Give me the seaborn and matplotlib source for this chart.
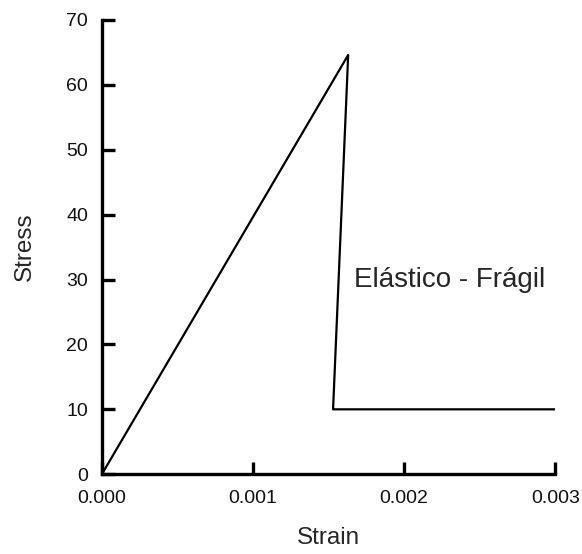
import matplotlib
matplotlib.use("Agg")
import matplotlib.pyplot as plt
import seaborn as sns
import pandas as pd

strain = [0.0, 0.00163, 0.00153, 0.003]
stress = [0.0, 64.6, 10.0, 10.0]
xticks = [0.000, 0.001, 0.002, 0.003]
xticklabels = ["0.000", "0.001", "0.002", "0.003"]
yticks = [0, 10, 20, 30, 40, 50, 60, 70]

sns.set_style("white")
plt.rcParams['font.family'] = ['Liberation Sans', 'DejaVu Sans']

df = pd.DataFrame({"Strain": strain, "Stress": stress})

fig = plt.figure(figsize=(5.82, 5.54), dpi=100)
ax = fig.add_axes([0.175, 0.144, 0.779, 0.82])
sns.lineplot(data=df, x="Strain", y="Stress", sort=False, estimator=None,
             color="black", linewidth=1.6, ax=ax)

ax.set_xlim(0, 0.003)
ax.set_ylim(0, 70)
ax.set_xticks(xticks)
ax.set_xticklabels(xticklabels)
ax.set_yticks(yticks)
for s in ["top", "right"]:
    ax.spines[s].set_visible(False)
for s in ["left", "bottom"]:
    ax.spines[s].set_linewidth(2.4)
    ax.spines[s].set_color("black")
    ax.spines[s].set_capstyle("projecting")
ax.tick_params(direction="in", length=9, width=2.4, colors="black",
               labelsize=14, labelcolor="#111111", left=True, bottom=True)
ax.tick_params(axis="x", pad=11)
ax.tick_params(axis="y", pad=10)
ax.set_xlabel("Strain", fontsize=17.5, labelpad=15)
ax.set_ylabel("Stress", fontsize=17.5, labelpad=22)
ax.text(0.00167, 30, "Elástico - Frágil", fontsize=20, va="center", ha="left")

fig.savefig("out.png", dpi=100)
